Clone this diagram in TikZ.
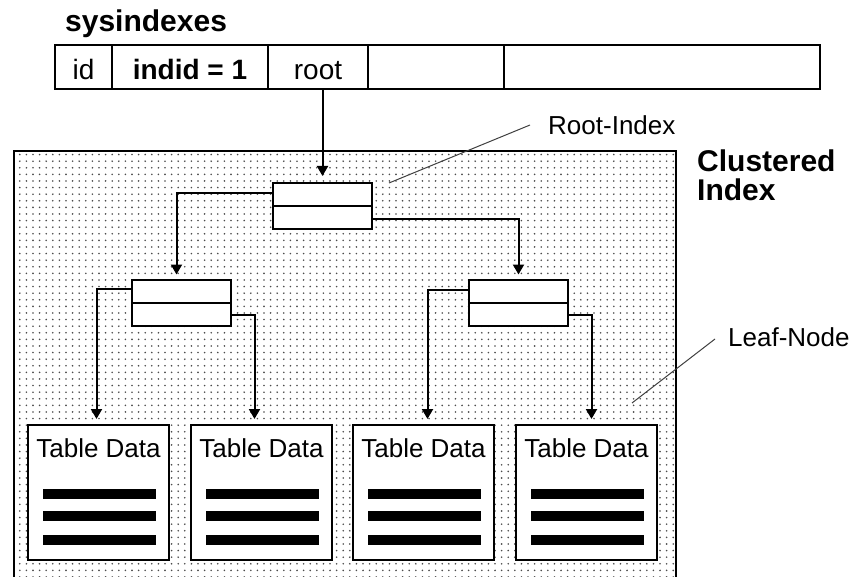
\documentclass[tikz,border=0pt]{standalone}
\usepackage{fontspec}
\setmainfont{Liberation Sans}
\usetikzlibrary{arrows.meta,patterns,calc}

% dotted background of the clustered index
\pgfdeclarepatternformonly{sparsedots}{\pgfqpoint{-1pt}{-1pt}}{\pgfqpoint{1pt}{1pt}}{\pgfqpoint{6.6pt}{6.6pt}}{%
  \pgfpathcircle{\pgfqpoint{0pt}{0pt}}{0.9pt}\pgfusepath{fill}}

\tikzset{
  cell/.style={draw, line width=2pt, minimum height=44pt, inner sep=0pt, outer sep=0pt,
    anchor=west, text height=26pt, text depth=0pt, font=\fontsize{28}{30}\selectfont},
  idxbox/.style={draw, fill=white, line width=2pt, minimum width=99pt, minimum height=46pt, inner sep=0pt},
  leafbox/.style={draw, fill=white, line width=2pt, minimum width=141pt, minimum height=135pt,
    inner sep=0pt, outer sep=0pt, anchor=north west},
  link/.style={line width=2pt, -{Triangle[width=11pt,length=10pt]}, shorten >=6pt},
  leader/.style={line width=1pt, black!75},
  bar/.style={line width=10pt},
  lbl/.style={font=\fontsize{26}{30}\selectfont, inner sep=0pt},
}

\begin{document}
\begin{tikzpicture}[x=1pt,y=-1pt]
    \clip (0,0) rectangle (856,577);
    \fill[white] (0,0) rectangle (856,577);

    % sysindexes row
    \node[font=\bfseries\fontsize{30}{36}\selectfont, anchor=base west, inner sep=0pt] (title) at (65,32) {sysindexes};
    \node[cell, minimum width=57pt] (idcell) at (55,67) {id};
    \node[cell, minimum width=156pt] (indidcell) at (idcell.east) {\bfseries indid = 1};
    \node[cell, minimum width=100pt] (rootcell) at (indidcell.east) {root};
    \node[cell, minimum width=136pt] (cellfour) at (rootcell.east) {};
    \node[cell, minimum width=316pt] (cellfive) at (cellfour.east) {};

    % clustered index
    \node[draw, line width=2pt, pattern=sparsedots, pattern color=black!70, anchor=north west,
      minimum width=662pt, minimum height=460pt, inner sep=0pt] (cluster) at (13,150) {};
    \node[font=\bfseries\fontsize{30}{29}\selectfont, align=left, anchor=north west, inner sep=0pt] (clusterlbl) at (697,150) {Clustered\\Index};

    \node[idxbox] (rootidx) at (322.5,206) {};
    \node[idxbox] (lmid) at (181.5,302.5) {};
    \node[idxbox] (rmid) at (518.5,302.5) {};
    \foreach \n in {rootidx,lmid,rmid}
        \draw[line width=2pt] (\n.west) -- (\n.east);

    \foreach \name/\x in {leaf1/28,leaf2/191,leaf3/353,leaf4/516}
        \node[leafbox] (\name) at (\x,425) {};
    \foreach \i in {1,...,4} {
        \node[lbl, anchor=north] (txt\i) at ([yshift=-13pt]leaf\i.north) {Table Data};
        \foreach \dy in {69,91,115}
            \draw[bar] ([xshift=15pt,yshift=-\dy pt]leaf\i.north west) -- ([xshift=-13pt,yshift=-\dy pt]leaf\i.north east);
    }

    % pointers
    \draw[link] (rootcell.south -| rootidx.north) -- (rootidx.north);
    \draw[link, shorten >=4pt] ($(rootidx.north west)!0.22!(rootidx.south west)$) -| ([xshift=-5pt]lmid.north);
    \draw[link, shorten >=4pt] ($(rootidx.north east)!0.77!(rootidx.south east)$) -| (rmid.north);
    \draw[link] ($(lmid.north west)!0.22!(lmid.south west)$) -| ([xshift=-2pt]leaf1.north);
    \draw[link] ($(lmid.north east)!0.75!(lmid.south east)$) -| ([xshift=-7pt]leaf2.north);
    \draw[link] ($(rmid.north west)!0.24!(rmid.south west)$) -| ([xshift=4pt]leaf3.north);
    \draw[link] ($(rmid.north east)!0.77!(rmid.south east)$) -| ([xshift=5pt]leaf4.north);

    % labels
    \node[lbl, anchor=west] (rootlbl) at (548,125) {Root-Index};
    \draw[leader] ([xshift=-18pt]rootlbl.west) -- ([xshift=16pt,yshift=-1pt]rootidx.north east);
    \node[lbl, anchor=west] (leaflbl) at (728,337) {Leaf-Node};
    \draw[leader] ([xshift=-13pt,yshift=-2pt]leaflbl.west) -- ([xshift=-25pt,yshift=22pt]leaf4.north east);
\end{tikzpicture}
\end{document}
